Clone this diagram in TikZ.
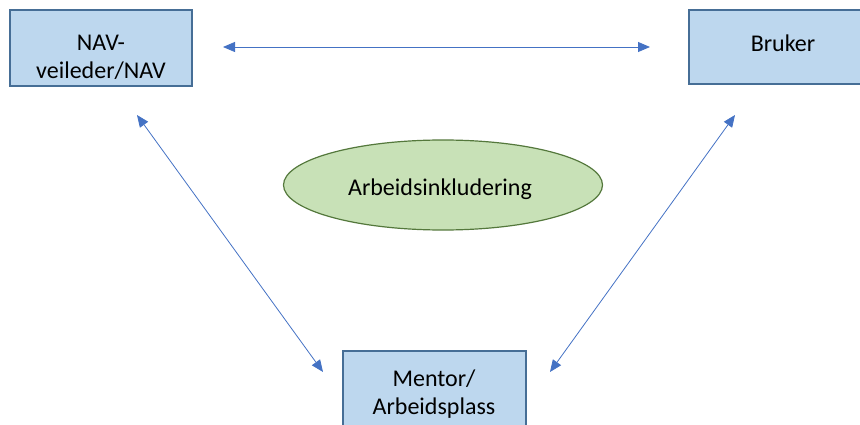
\documentclass[tikz,border=0pt]{standalone}
\usepackage{fontspec}
\setmainfont{Carlito}
\usetikzlibrary{arrows.meta,shapes.geometric}
\definecolor{boxfill}{RGB}{189,215,238}
\definecolor{boxline}{RGB}{70,110,150}
\definecolor{ellfill}{RGB}{200,225,183}
\definecolor{ellline}{RGB}{84,120,60}
\definecolor{arr}{RGB}{68,114,196}
\tikzset{
  boxnode/.style={draw=boxline, line width=1.6pt, fill=boxfill, inner sep=0pt},
  txt/.style={font=\fontsize{24}{28}\selectfont, align=center, text=black, inner sep=0pt},
  link/.style={draw=arr, line width=0.8pt, {Triangle[length=12pt,width=10pt]}-{Triangle[length=12pt,width=10pt]}}
}
\begin{document}
\begin{tikzpicture}[x=1pt,y=-1pt]
\useasboundingbox (0,0) rectangle (860,425);
\clip (0,0) rectangle (860,425);
\node[boxnode, minimum width=182pt, minimum height=76pt] (nav) at (101,48) {};
\node[txt] (navt) at (101,57) {NAV-\\veileder/NAV};
\node[boxnode, minimum width=190pt, minimum height=74pt] (bruker) at (784,47) {};
\node[txt] (brukert) at (783,43) {Bruker};
\node[boxnode, minimum width=183pt, minimum height=82pt] (mentor) at (434.5,392) {};
\node[txt] (mentort) at (434,394) {Mentor/\\Arbeidsplass};
\node[draw=ellline, line width=1.2pt, fill=ellfill, ellipse, minimum width=319pt, minimum height=90pt, inner sep=0pt] (ell) at (443,185) {};
\node[txt] (ellt) at (440,189) {Arbeidsinkludering};
\coordinate (h1) at (223,47);
\coordinate (h2) at (650,47);
\coordinate (l1) at (137,115);
\coordinate (l2) at (323,372);
\coordinate (r1) at (735,115);
\coordinate (r2) at (550,372);
\draw[link] (h1) -- (h2);
\draw[link] (l1) -- (l2);
\draw[link] (r1) -- (r2);
\end{tikzpicture}
\end{document}
